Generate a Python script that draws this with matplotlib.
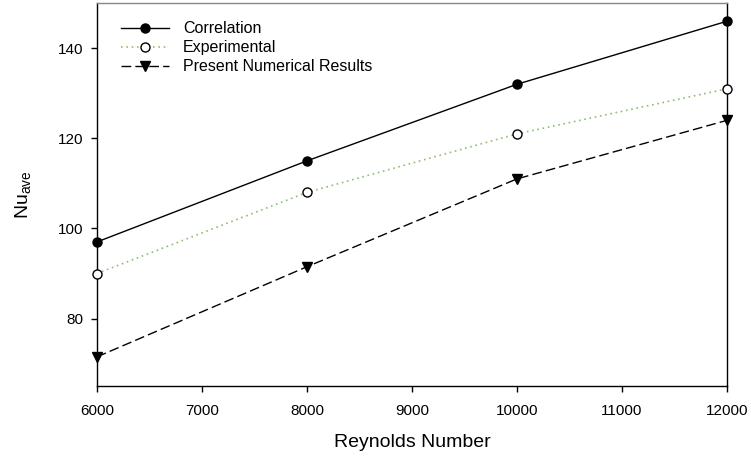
import matplotlib.pyplot as plt

plt.rcParams['font.family'] = ['Liberation Sans', 'DejaVu Sans']
plt.rcParams['mathtext.default'] = 'regular'

reynolds = [6000, 8000, 10000, 12000]
correlation = [97, 115, 132, 146]
experimental = [90, 108, 121, 131]
numerical = [71.5, 91.5, 111, 124]

fig = plt.figure(figsize=(7.51, 4.57), dpi=100)
ax = fig.add_axes([0.129, 0.155, 0.839, 0.838])

ax.plot(reynolds, correlation, color='black', lw=1.0, marker='o',
        ms=6.5, mfc='black', mec='black', label='Correlation', clip_on=False, zorder=3)
ax.plot(reynolds, experimental, color='#8fbf6f', lw=1.2, ls=(0, (1, 2.2)), marker='o',
        ms=6.5, mfc='white', mec='black', mew=1.0, label='Experimental', clip_on=False, zorder=3)
ax.plot(reynolds, numerical, color='black', lw=1.0, ls=(0, (7, 3)), marker='v',
        ms=7, mfc='black', mec='black', label='Present Numerical Results', clip_on=False, zorder=3)

ax.set_xlim(6000, 12000)
ax.set_ylim(65, 150)
ax.set_xticks(range(6000, 12001, 1000))
ax.set_yticks([80, 100, 120, 140])
ax.tick_params(direction='out', length=4.5, width=1, labelsize=11, colors='black', pad=5)
ax.tick_params(axis='x', pad=8)

for s in ['left', 'bottom', 'right']:
    ax.spines[s].set_color('black')
    ax.spines[s].set_linewidth(1)
ax.spines['top'].set_color('#888888')
ax.spines['top'].set_linewidth(1)

ax.set_xlabel('Reynolds Number', fontsize=14, labelpad=12)
ax.set_ylabel('Nu$_{ave}$', fontsize=14, labelpad=18)

ax.legend(loc='upper left', bbox_to_anchor=(0.015, 0.99), frameon=False, fontsize=11.5,
          handlelength=3.0, handletextpad=0.9, labelspacing=0.25)

fig.savefig('out.png', dpi=100)
